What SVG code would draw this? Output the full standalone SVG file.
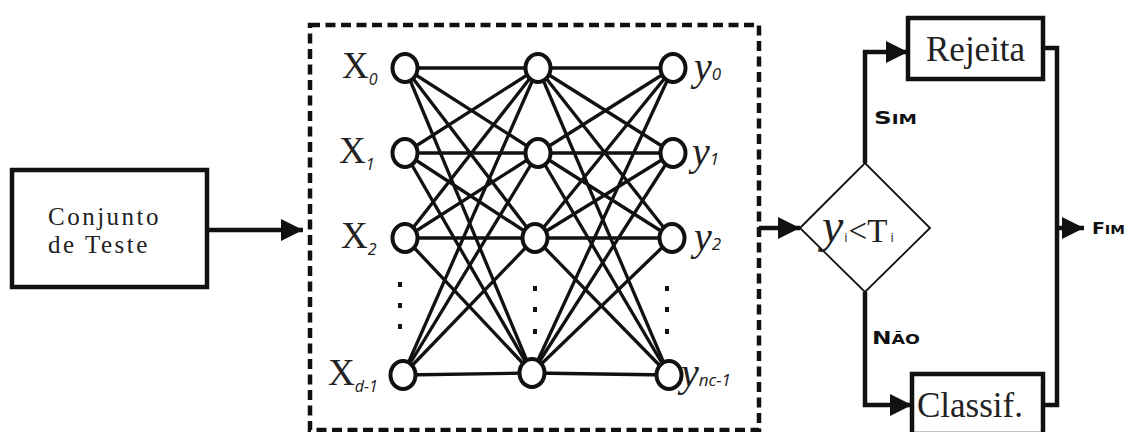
<svg xmlns="http://www.w3.org/2000/svg" width="1126" height="432" viewBox="0 0 1126 432">
<style>
.box{fill:#fff;stroke:#111;stroke-width:4.5}
.ln{fill:none;stroke:#111;stroke-width:4.5}
.edge{stroke:#111;stroke-width:3.3}
.neu{fill:#fff;stroke:#111;stroke-width:4}
.dot{fill:#111}
.tms{font-family:"Liberation Serif","DejaVu Serif",serif;fill:#222}
.sub{font-family:"Open Sans","DejaVu Sans",sans-serif;font-style:italic;fill:#222}
.sc{font-family:"DejaVu Sans",sans-serif;font-weight:bold;fill:#111}
</style>
<defs>
<marker id="ah" viewBox="0 0 10 10" refX="10" refY="5" markerWidth="22" markerHeight="22" markerUnits="userSpaceOnUse" orient="auto">
<path d="M0,0 L10,5 L0,10 z" fill="#111"/>
</marker>
</defs>

<g id="connectors">
<line class="ln" x1="207" y1="230" x2="303" y2="230" marker-end="url(#ah)"/>
<line class="ln" x1="759" y1="228" x2="800" y2="228" marker-end="url(#ah)"/>
<polyline class="ln" points="865,163 865,52 908,52" marker-end="url(#ah)"/>
<polyline class="ln" points="865,292 865,405 912,405" marker-end="url(#ah)"/>
<polyline class="ln" points="1043,48 1057,48 1057,405 1043,405"/>
<line class="ln" x1="1057" y1="228" x2="1084" y2="228" marker-end="url(#ah)"/>
<text class="sc" x="874" y="124" textLength="43" lengthAdjust="spacingAndGlyphs"><tspan font-size="18">S</tspan><tspan font-size="13.5">IM</tspan></text>
<text class="sc" x="872" y="344" textLength="48" lengthAdjust="spacingAndGlyphs"><tspan font-size="18">N</tspan><tspan font-size="13.5">ÃO</tspan></text>
<text class="sc" x="1092" y="234" textLength="33" lengthAdjust="spacingAndGlyphs"><tspan font-size="16">F</tspan><tspan font-size="12.5">IM</tspan></text>
</g>

<g id="conjunto">
<rect class="box" x="12" y="170" width="195" height="117"/>
<text class="tms" x="48" y="225" font-size="25" letter-spacing="2.5">Conjunto</text>
<text class="tms" x="48" y="253" font-size="25" letter-spacing="2.5">de Teste</text>
</g>

<g id="rede">
<rect x="310" y="25" width="449" height="405" fill="none" stroke="#111" stroke-width="4.5" stroke-dasharray="10,5.5"/>
<g id="edges">
<line class="edge" x1="405" y1="68" x2="538" y2="68"/><line class="edge" x1="405" y1="68" x2="538" y2="153"/><line class="edge" x1="405" y1="68" x2="535" y2="238"/><line class="edge" x1="405" y1="68" x2="532" y2="373"/>
<line class="edge" x1="405" y1="153" x2="538" y2="68"/><line class="edge" x1="405" y1="153" x2="538" y2="153"/><line class="edge" x1="405" y1="153" x2="535" y2="238"/><line class="edge" x1="405" y1="153" x2="532" y2="373"/>
<line class="edge" x1="405" y1="238" x2="538" y2="68"/><line class="edge" x1="405" y1="238" x2="538" y2="153"/><line class="edge" x1="405" y1="238" x2="535" y2="238"/><line class="edge" x1="405" y1="238" x2="532" y2="373"/>
<line class="edge" x1="403" y1="375" x2="538" y2="68"/><line class="edge" x1="403" y1="375" x2="538" y2="153"/><line class="edge" x1="403" y1="375" x2="535" y2="238"/><line class="edge" x1="403" y1="375" x2="532" y2="373"/>
<line class="edge" x1="538" y1="68" x2="673" y2="68"/><line class="edge" x1="538" y1="68" x2="673" y2="153"/><line class="edge" x1="538" y1="68" x2="672" y2="238"/><line class="edge" x1="538" y1="68" x2="669" y2="375"/>
<line class="edge" x1="538" y1="153" x2="673" y2="68"/><line class="edge" x1="538" y1="153" x2="673" y2="153"/><line class="edge" x1="538" y1="153" x2="672" y2="238"/><line class="edge" x1="538" y1="153" x2="669" y2="375"/>
<line class="edge" x1="535" y1="238" x2="673" y2="68"/><line class="edge" x1="535" y1="238" x2="673" y2="153"/><line class="edge" x1="535" y1="238" x2="672" y2="238"/><line class="edge" x1="535" y1="238" x2="669" y2="375"/>
<line class="edge" x1="532" y1="373" x2="673" y2="68"/><line class="edge" x1="532" y1="373" x2="673" y2="153"/><line class="edge" x1="532" y1="373" x2="672" y2="238"/><line class="edge" x1="532" y1="373" x2="669" y2="375"/>
</g>
<g id="neurons">
<ellipse class="neu" cx="405" cy="68" rx="12.5" ry="14"/>
<ellipse class="neu" cx="405" cy="153" rx="12.5" ry="14"/>
<ellipse class="neu" cx="405" cy="238" rx="12.5" ry="14"/>
<ellipse class="neu" cx="403" cy="375" rx="12.5" ry="14"/>
<ellipse class="neu" cx="538" cy="68" rx="12.5" ry="14"/>
<ellipse class="neu" cx="538" cy="153" rx="12.5" ry="14"/>
<ellipse class="neu" cx="535" cy="238" rx="12.5" ry="14"/>
<ellipse class="neu" cx="532" cy="373" rx="12.5" ry="14"/>
<ellipse class="neu" cx="673" cy="68" rx="12.5" ry="14"/>
<ellipse class="neu" cx="673" cy="153" rx="12.5" ry="14"/>
<ellipse class="neu" cx="672" cy="238" rx="12.5" ry="14"/>
<ellipse class="neu" cx="669" cy="375" rx="12.5" ry="14"/>
</g>
<g id="dots">
<rect class="dot" x="398" y="282" width="4" height="5"/><rect class="dot" x="398" y="303" width="4" height="5"/><rect class="dot" x="398" y="324" width="4" height="5"/>
<rect class="dot" x="533" y="286" width="4" height="5"/><rect class="dot" x="533" y="307" width="4" height="5"/><rect class="dot" x="533" y="329" width="4" height="5"/>
<rect class="dot" x="665" y="286" width="4" height="5"/><rect class="dot" x="665" y="307" width="4" height="5"/><rect class="dot" x="665" y="329" width="4" height="5"/>
</g>
<g id="labels">
<text class="tms" x="342" y="78" font-size="37">X<tspan class="sub" font-size="16" dy="7">0</tspan></text>
<text class="tms" x="339" y="163" font-size="37">X<tspan class="sub" font-size="16" dy="7">1</tspan></text>
<text class="tms" x="341" y="248" font-size="37">X<tspan class="sub" font-size="16" dy="7">2</tspan></text>
<text class="tms" x="328" y="385" font-size="37">X<tspan class="sub" font-size="16" dy="7">d-1</tspan></text>
<text class="tms" x="694" y="80" font-size="40" font-style="italic">y<tspan class="sub" font-size="17" dy="0">0</tspan></text>
<text class="tms" x="692" y="165" font-size="40" font-style="italic">y<tspan class="sub" font-size="17" dy="0">1</tspan></text>
<text class="tms" x="694" y="250" font-size="40" font-style="italic">y<tspan class="sub" font-size="17" dy="0">2</tspan></text>
<text class="tms" x="681" y="386" font-size="40" font-style="italic">y<tspan class="sub" font-size="17" dy="0">nc-1</tspan></text>
</g>
</g>

<g id="decisao">
<polygon points="800,228 865,163 930,228 865,292" fill="#fff" stroke="#111" stroke-width="1.8"/>
<text class="tms" x="822" y="242" font-size="48"><tspan font-style="italic">y</tspan><tspan font-family="Open Sans, DejaVu Sans, sans-serif" font-size="13" dx="1">i</tspan><tspan dx="1" font-size="33">&lt;T</tspan><tspan font-family="Open Sans, DejaVu Sans, sans-serif" font-size="13" dx="3">i</tspan></text>
</g>

<g id="rejeita">
<rect class="box" x="908" y="18" width="135" height="61"/>
<text class="tms" x="926" y="61" font-size="35">Rejeita</text>
</g>

<g id="classif">
<rect class="box" x="912" y="374" width="131" height="60"/>
<text class="tms" x="917" y="417" font-size="35">Classif.</text>
</g>
</svg>
